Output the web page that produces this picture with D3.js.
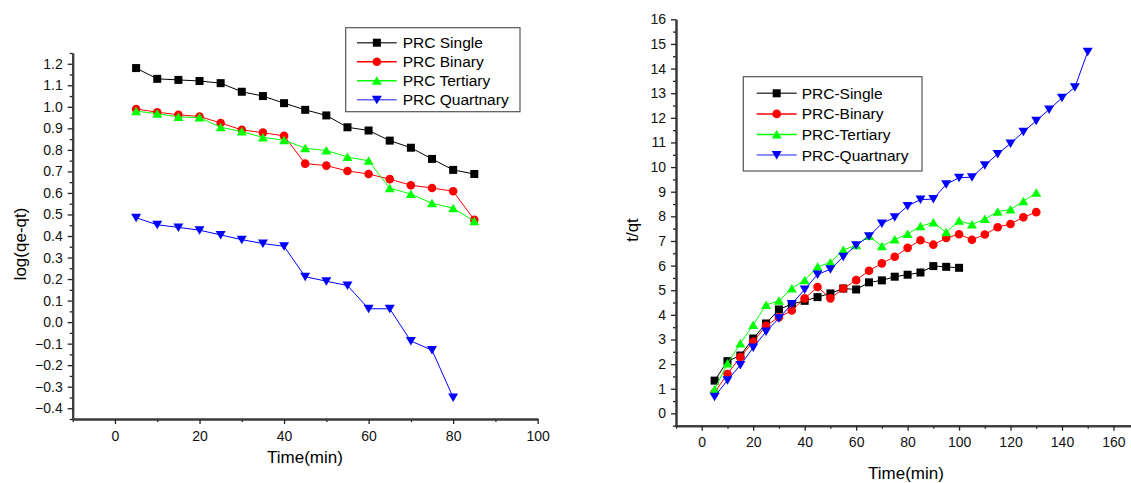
<!DOCTYPE html>
<html>
<head>
<meta charset="utf-8">
<script src="https://cdn.jsdelivr.net/npm/d3@7"></script>
<style>
  body { margin: 0; background: #fff; }
  svg { font-family: "Liberation Sans", Arial, sans-serif; display: block; }
</style>
</head>
<body>
<div id="container"></div>
<script>
/* DATA */
// left panel: log(qe-qt) vs time
const timeLeft = [5, 10, 15, 20, 25, 30, 35, 40, 45, 50, 55, 60, 65, 70, 75, 80, 85]
const logSingle = [1.18, 1.13, 1.125, 1.12, 1.11, 1.07, 1.05, 1.017, 0.986, 0.96, 0.905, 0.89, 0.843, 0.81, 0.758, 0.707, 0.688]
const logBinary = [0.99, 0.975, 0.963, 0.955, 0.925, 0.893, 0.88, 0.865, 0.736, 0.727, 0.702, 0.688, 0.664, 0.636, 0.623, 0.608, 0.475]
const logTertiary = [0.98, 0.968, 0.953, 0.95, 0.905, 0.885, 0.858, 0.845, 0.808, 0.797, 0.767, 0.749, 0.622, 0.595, 0.552, 0.529, 0.469]
const timeLeftQ = [5, 10, 15, 20, 25, 30, 35, 40, 45, 50, 55, 60, 65, 70, 75, 80]
const logQuart = [0.485, 0.452, 0.44, 0.427, 0.405, 0.383, 0.365, 0.352, 0.211, 0.19, 0.17, 0.062, 0.062, -0.088, -0.13, -0.35]

// right panel: t/qt vs time
const timeSingle = [5, 10, 15, 20, 25, 30, 35, 40, 45, 50, 55, 60, 65, 70, 75, 80, 85, 90, 95, 100]
const tqSingle = [1.33, 2.12, 2.35, 3.04, 3.65, 4.22, 4.44, 4.57, 4.72, 4.87, 5.07, 5.03, 5.32, 5.40, 5.55, 5.63, 5.72, 5.98, 5.95, 5.91]
const timeLong = [5, 10, 15, 20, 25, 30, 35, 40, 45, 50, 55, 60, 65, 70, 75, 80, 85, 90, 95, 100, 105, 110, 115, 120, 125, 130]
const tqBinary = [0.85, 1.6, 2.29, 2.91, 3.56, 3.9, 4.18, 4.67, 5.13, 4.67, 5.07, 5.41, 5.79, 6.09, 6.36, 6.72, 7.03, 6.85, 7.12, 7.27, 7.05, 7.26, 7.56, 7.69, 7.96, 8.17]
const tqTertiary = [0.97, 2.03, 2.84, 3.59, 4.4, 4.57, 5.07, 5.41, 5.95, 6.13, 6.63, 6.83, 7.2, 6.79, 7.06, 7.28, 7.6, 7.75, 7.35, 7.82, 7.67, 7.89, 8.19, 8.28, 8.61, 8.96]
const timeQuart = [5, 10, 15, 20, 25, 30, 35, 40, 45, 50, 55, 60, 65, 70, 75, 80, 85, 90, 95, 100, 105, 110, 115, 120, 125, 130, 135, 140, 145, 150]
const tqQuart = [0.68, 1.35, 1.96, 2.67, 3.32, 3.86, 4.44, 5.03, 5.64, 5.85, 6.36, 6.83, 7.19, 7.71, 7.96, 8.42, 8.68, 8.7, 9.3, 9.57, 9.59, 10.07, 10.53, 10.96, 11.43, 11.88, 12.34, 12.81, 13.24, 14.68]

const leftNames = ["PRC Single", "PRC Binary", "PRC Tertiary", "PRC Quartnary"]
const rightNames = ["PRC-Single", "PRC-Binary", "PRC-Tertiary", "PRC-Quartnary"]
const colors = ["#000000", "#ff0000", "#00ff00", "#0000ff"]
const shapes = ["square", "circle", "triangle", "triangleDown"]

/* CONSTANTS AND GLOBALS */
const width = 1131,
  height = 483

const svg = d3.select("#container")
  .append("svg")
  .attr("width", width)
  .attr("height", height)

// draws a marker of a given shape at 0,0
function marker(sel, shape, color) {
  if (shape === "square") {
    sel.append("rect").attr("x", -4).attr("y", -4).attr("width", 8).attr("height", 8).attr("fill", color)
  } else if (shape === "circle") {
    sel.append("circle").attr("r", 4.3).attr("fill", color)
  } else if (shape === "triangle") {
    sel.append("path").attr("d", "M0,-4.5L5,4L-5,4Z").attr("fill", color)
  } else {
    sel.append("path").attr("d", "M0,4.5L5,-4L-5,-4Z").attr("fill", color)
  }
}

function drawChart(cfg) {
  const g = svg.append("g")

  const x = d3.scaleLinear().domain(cfg.xDomain).range(cfg.xRange)
  const y = d3.scaleLinear().domain(cfg.yDomain).range(cfg.yRange)

  // minor ticks first, then major axis on top
  g.append("g")
    .attr("class", "minor")
    .attr("transform", `translate(0,${cfg.yRange[0]})`)
    .call(d3.axisBottom(x).tickValues(cfg.xMinor).tickSize(3).tickSizeOuter(0).tickFormat(""))
  g.append("g")
    .attr("class", "minor")
    .attr("transform", `translate(${cfg.xRange[0]},0)`)
    .call(d3.axisLeft(y).tickValues(cfg.yMinor).tickSize(3).tickSizeOuter(0).tickFormat(""))

  g.append("g")
    .attr("transform", `translate(0,${cfg.yRange[0]})`)
    .call(d3.axisBottom(x).tickValues(cfg.xMajor).tickSize(5).tickSizeOuter(0).tickPadding(cfg.xPad))
  g.append("g")
    .attr("transform", `translate(${cfg.xRange[0]},0)`)
    .call(d3.axisLeft(y).tickValues(cfg.yMajor).tickSize(5).tickSizeOuter(0).tickPadding(5).tickFormat(cfg.yFormat))

  g.selectAll(".domain").attr("stroke", "#3a3a3a").attr("stroke-width", 2)
  g.selectAll(".tick line").attr("stroke", "#222").attr("stroke-width", 1.3)
  g.selectAll(".tick text").attr("font-size", 14).attr("fill", "#111").attr("font-family", "Liberation Sans, Arial, sans-serif")

  // axis titles
  g.append("text")
    .attr("x", cfg.xTitlePos[0]).attr("y", cfg.xTitlePos[1])
    .attr("text-anchor", "middle").attr("font-size", 17)
    .text("Time(min)")
  g.append("text")
    .attr("transform", `translate(${cfg.yTitlePos[0]},${cfg.yTitlePos[1]}) rotate(-90)`)
    .attr("text-anchor", "middle").attr("dy", "0.35em").attr("font-size", 17)
    .text(cfg.yTitle)

  // series
  const line = d3.line().x(d => x(d[0])).y(d => y(d[1]))
  cfg.series.forEach((s, i) => {
    const pts = d3.zip(s.t, s.v)
    g.append("path")
      .datum(pts)
      .attr("d", line)
      .attr("fill", "none")
      .attr("stroke", colors[i])
      .attr("stroke-width", 1)
    g.selectAll(`g.m${i}`)
      .data(pts)
      .join("g")
      .attr("class", `m${i}`)
      .attr("transform", d => `translate(${x(d[0])},${y(d[1])})`)
      .each(function () { marker(d3.select(this), shapes[i], colors[i]) })
  })

  // legend
  const lg = cfg.legend
  g.append("rect")
    .attr("x", lg.x).attr("y", lg.y).attr("width", lg.w).attr("height", lg.h)
    .attr("fill", "#fff").attr("stroke", "#555").attr("stroke-width", 1.2)
  cfg.names.forEach((name, i) => {
    const row = g.append("g").attr("transform", `translate(${lg.x},${lg.y + lg.first + i * lg.step})`)
    row.append("line")
      .attr("x1", lg.lineX[0]).attr("x2", lg.lineX[1])
      .attr("stroke", i === 0 ? "#444" : colors[i]).attr("stroke-width", 1.5)
      .attr("stroke-opacity", i === 3 ? 0.6 : 1)
    const m = row.append("g").attr("transform", `translate(${(lg.lineX[0] + lg.lineX[1]) / 2},0)`)
    marker(m, shapes[i], colors[i])
    row.append("text")
      .attr("x", lg.textX).attr("dy", "0.36em")
      .attr("font-size", 15.5)
      .text(name)
  })
}

drawChart({
  xDomain: [-10, 100], xRange: [72.7, 537.7],
  yDomain: [-0.45, 1.25], yRange: [419, 53],
  xMajor: [0, 20, 40, 60, 80, 100],
  xMinor: [-10, 10, 30, 50, 70, 90],
  yMajor: d3.range(-4, 13).map(d => d / 10),
  yMinor: d3.range(-9, 26, 2).map(d => d / 20),
  yFormat: d3.format(".1f"),
  xPad: 7,
  xTitlePos: [305, 463],
  yTitlePos: [20, 244],
  yTitle: "log(qe-qt)",
  names: leftNames,
  series: [
    { t: timeLeft, v: logSingle },
    { t: timeLeft, v: logBinary },
    { t: timeLeft, v: logTertiary },
    { t: timeLeftQ, v: logQuart }
  ],
  legend: { x: 345.7, y: 27.7, w: 174.3, h: 84, first: 15, step: 19, lineX: [11.3, 51], textX: 57 }
})

drawChart({
  xDomain: [-10, 170], xRange: [676, 1139.2],
  yDomain: [-0.5, 16], yRange: [425.7, 19.3],
  xMajor: [0, 20, 40, 60, 80, 100, 120, 140, 160],
  xMinor: [-10, 10, 30, 50, 70, 90, 110, 130, 150, 170],
  yMajor: d3.range(0, 17),
  yMinor: d3.range(-1, 32, 2).map(d => d / 2),
  yFormat: d3.format("d"),
  xPad: 6,
  xTitlePos: [906, 479],
  yTitlePos: [632, 230],
  yTitle: "t/qt",
  names: rightNames,
  series: [
    { t: timeSingle, v: tqSingle },
    { t: timeLong, v: tqBinary },
    { t: timeLong, v: tqTertiary },
    { t: timeQuart, v: tqQuart }
  ],
  legend: { x: 743.3, y: 76.7, w: 178.7, h: 94.3, first: 16.6, step: 20.6, lineX: [13.4, 53.4], textX: 58.4 }
})
</script>
</body>
</html>
